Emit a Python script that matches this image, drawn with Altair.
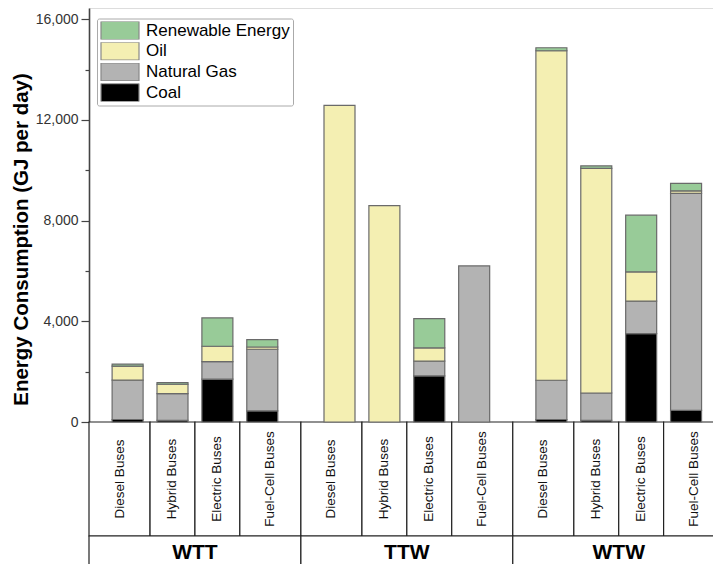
import altair as alt
import pandas as pd

# ---------------- data ----------------
stages = ["WTT", "TTW", "WTW"]
buses = ["Diesel Buses", "Hybrid Buses", "Electric Buses", "Fuel-Cell Buses"]
sources = ["Coal", "Natural Gas", "Oil", "Renewable Energy"]
legend_order = ["Renewable Energy", "Oil", "Natural Gas", "Coal"]
legend_colors = ["#98CB98", "#F4EFB2", "#B3B3B3", "#000000"]

# values (GJ per day), stage-major order: WTT x4 buses, TTW x4, WTW x4
coal = [100, 70, 1700, 440, 0, 0, 1830, 0, 100, 70, 3515, 465]
natural_gas = [1560, 1060, 700, 2450, 0, 0, 585, 6200, 1558, 1083, 1285, 8620]
oil = [560, 370, 610, 90, 12580, 8600, 530, 0, 13093, 8923, 1165, 100]
renewable = [80, 65, 1125, 290, 0, 0, 1165, 0, 120, 100, 2255, 295]

y_tick_values = [0, 2000, 4000, 6000, 8000, 10000, 12000, 14000, 16000]

series = {"Coal": coal, "Natural Gas": natural_gas, "Oil": oil,
          "Renewable Energy": renewable}

# ---------------- layout helpers ----------------
GROUP_STEP = 4.72
HALF_GAP = (GROUP_STEP - 3) / 2
X_MAX = 13.04

bar_rows, cell_rows, group_rows = [], [], []
for gi, st in enumerate(stages):
    for bi, bus in enumerate(buses):
        idx = gi * 4 + bi
        pos = gi * GROUP_STEP + bi
        for si, src in enumerate(sources):
            v = series[src][idx]
            if v > 0:
                bar_rows.append({"stage": st, "bus": bus, "source": src,
                                 "order": si, "value": v, "pos": pos})
        start = pos - (HALF_GAP if bi == 0 else 0.5)
        end = pos + (HALF_GAP if bi == 3 else 0.5)
        cell_rows.append({"bus": bus, "start": start, "end": end,
                          "mid": (start + end) / 2})
    gs = gi * GROUP_STEP - HALF_GAP
    ge = gi * GROUP_STEP + 3 + HALF_GAP
    group_rows.append({"stage": st, "start": gs, "end": ge, "mid": (gs + ge) / 2})

bars_df = pd.DataFrame(bar_rows)
cells_df = pd.DataFrame(cell_rows)
groups_df = pd.DataFrame(group_rows)

FONT = "Liberation Sans"
x_scale = alt.Scale(domain=[-HALF_GAP, X_MAX], nice=False, zero=False, padding=0)

bars = alt.Chart(bars_df).mark_bar(size=31, stroke="#6a6a6a", strokeWidth=1.2).encode(
    x=alt.X("pos:Q", scale=x_scale, axis=None),
    y=alt.Y("value:Q", stack="zero",
            scale=alt.Scale(domain=[0, 16450], nice=False),
            axis=alt.Axis(
                values=y_tick_values,
                format=",.0f",
                labelExpr="datum.value % 4000 === 0 ? datum.label : ''",
                tickSize={"condition": {"test": "datum.value % 4000 === 0", "value": 8}, "value": 4},
                tickColor="#444", tickWidth=1.2,
                domainColor="#444", domainWidth=1.6,
                labelPadding=3, labelFontSize=14, labelColor="#333", labelFont=FONT,
                grid=False,
                title="Energy Consumption (GJ per day)",
                titleFont=FONT, titleFontSize=20.5, titleFontWeight="bold",
                titleColor="#000", titleX=-58, titleY=231)),
    color=alt.Color("source:N",
                    scale=alt.Scale(domain=legend_order, range=legend_colors),
                    legend=alt.Legend(
                        orient="none", legendX=8, legendY=10.5, title=None,
                        symbolType="M-1,-0.4737L1,-0.4737L1,0.4737L-1,0.4737Z",
                        symbolSize=1444, clipHeight=18, rowPadding=2.7,
                        symbolStrokeColor="#888", symbolStrokeWidth=1.2,
                        labelFont=FONT, labelFontSize=17, labelColor="#000",
                        labelOffset=6, padding=3, strokeColor="#aaa",
                        cornerRadius=2, fillColor="white")),
    order=alt.Order("order:Q", sort="ascending"),
)

cells = alt.Chart(cells_df).mark_rect(fill="white", stroke="#222", strokeWidth=1.2).encode(
    x=alt.X("start:Q", scale=x_scale, axis=None),
    x2="end:Q",
    y=alt.value(414),
    y2=alt.value(528),
)
cell_text = alt.Chart(cells_df).mark_text(angle=270, align="center", baseline="middle",
                                           fontSize=13.5, font=FONT, color="#111").encode(
    x=alt.X("mid:Q", scale=x_scale, axis=None),
    y=alt.value(471),
    text="bus:N",
)
groups = alt.Chart(groups_df).mark_rect(fill="white", stroke="#222", strokeWidth=1.2).encode(
    x=alt.X("start:Q", scale=x_scale, axis=None),
    x2="end:Q",
    y=alt.value(528),
    y2=alt.value(580),
)
group_text = alt.Chart(groups_df).mark_text(align="center", baseline="middle",
                                            fontSize=21, fontWeight="bold", font=FONT,
                                            color="#000").encode(
    x=alt.X("mid:Q", scale=x_scale, axis=None),
    y=alt.value(545),
    text="stage:N",
)
top_line = alt.Chart(groups_df).mark_rule(color="#555", strokeWidth=2).encode(
    x=alt.value(0), x2=alt.value(700), y=alt.value(-1)
)

chart = alt.layer(cells, cell_text, groups, group_text, top_line, bars).properties(
    width=624, height=414,
    autosize=alt.AutoSizeParams(type="none"),
    padding={"left": 81, "top": 0, "right": 0, "bottom": 142},
).configure_view(stroke=None).configure(background="white")

chart.save("out.html", embed_options={"renderer": "svg", "actions": False})
